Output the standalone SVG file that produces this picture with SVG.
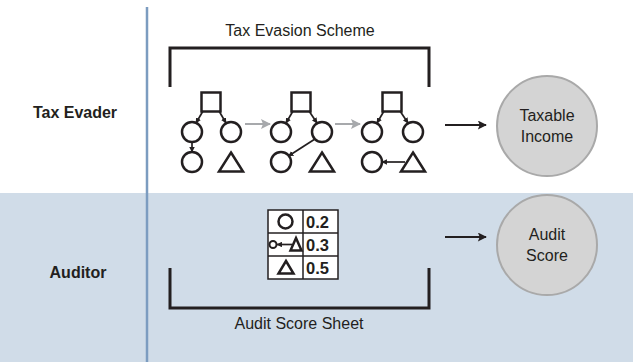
<svg xmlns="http://www.w3.org/2000/svg" width="633" height="362" viewBox="0 0 633 362">
<defs>
<style>
.lbl{font-family:"Liberation Sans",Arial,sans-serif;font-size:16px;fill:#231f20}
.b{font-weight:bold}
.sh{fill:none;stroke:#231f20;stroke-width:2.5}
.ed{fill:none;stroke:#231f20;stroke-width:1.7}
.br{fill:none;stroke:#231f20;stroke-width:3}
.gr{fill:none;stroke:#a7a9ac;stroke-width:2}
.big{fill:#d4d4d4;stroke:#a9a9a9;stroke-width:2}
.val{font-family:"Liberation Sans",Arial,sans-serif;font-size:16.5px;font-weight:bold;fill:#231f20}
</style>
<marker id="ak" viewBox="0 0 10 10" refX="9" refY="5" markerWidth="5.5" markerHeight="5.5" orient="auto" markerUnits="userSpaceOnUse"><path d="M0,0 L10,5 L0,10 z" fill="#231f20"/></marker>
<marker id="ab" viewBox="0 0 10 10" refX="9" refY="5" markerWidth="11" markerHeight="9" orient="auto" markerUnits="userSpaceOnUse"><path d="M0,0 L10,5 L0,10 L2,5 z" fill="#231f20"/></marker>
<marker id="ag" viewBox="0 0 10 10" refX="9" refY="5" markerWidth="10" markerHeight="10" orient="auto" markerUnits="userSpaceOnUse"><path d="M0,0 L10,5 L0,10 L2,5 z" fill="#a7a9ac"/></marker>
</defs>
<rect x="0" y="193" width="633" height="169" fill="#d0dce8"/>
<line x1="147" y1="7" x2="147" y2="362" stroke="#7c9cc0" stroke-width="2.5"/>

<g id="lane-tax-evader"><text class="lbl b" x="75" y="118" text-anchor="middle">Tax Evader</text></g>
<g id="lane-auditor"><text class="lbl b" x="78" y="278" text-anchor="middle">Auditor</text></g>

<g id="tax-evasion-scheme">
<text class="lbl" x="300" y="36" text-anchor="middle">Tax Evasion Scheme</text>
<path class="br" d="M170,87 V48 H429 V87"/>
<g id="scheme-1">
<rect class="sh" x="201.5" y="92.5" width="19" height="19"/>
<circle class="sh" cx="192" cy="132" r="10"/>
<circle class="sh" cx="231" cy="132" r="10"/>
<circle class="sh" cx="192" cy="162" r="10"/>
<path class="sh" d="M231,152.5 L243,171.5 L219,171.5 Z"/>
</g>
<g id="scheme-2">
<rect class="sh" x="291.5" y="92.5" width="19" height="19"/>
<circle class="sh" cx="281" cy="132" r="10"/>
<circle class="sh" cx="322" cy="132" r="10"/>
<circle class="sh" cx="281" cy="162" r="10"/>
<path class="sh" d="M322,152.5 L334,171.5 L310,171.5 Z"/>
</g>
<g id="scheme-3">
<rect class="sh" x="382.5" y="92.5" width="19" height="19"/>
<circle class="sh" cx="372" cy="132" r="10"/>
<circle class="sh" cx="413" cy="132" r="10"/>
<circle class="sh" cx="372" cy="162" r="10"/>
<path class="sh" d="M413,152.5 L425,171.5 L401,171.5 Z"/>
</g>
</g>

<g id="taxable-income">
<circle class="big" cx="547" cy="126" r="50"/>
<text class="lbl" x="547" y="121" text-anchor="middle">Taxable</text>
<text class="lbl" x="547" y="142" text-anchor="middle">Income</text>
</g>

<g id="audit-score-sheet">
<path class="br" d="M170,268 V308 H429 V268"/>
<text class="lbl" x="299" y="329" text-anchor="middle">Audit Score Sheet</text>
<g id="score-table">
<rect x="268" y="210" width="70" height="69" fill="#ffffff" stroke="#231f20" stroke-width="1.5"/>
<line x1="303" y1="210" x2="303" y2="279" stroke="#231f20" stroke-width="1.5"/>
<line x1="268" y1="233" x2="338" y2="233" stroke="#231f20" stroke-width="1.5"/>
<line x1="268" y1="256" x2="338" y2="256" stroke="#231f20" stroke-width="1.5"/>
<circle class="sh" cx="285.5" cy="221.5" r="7"/>
<circle fill="none" stroke="#231f20" stroke-width="2" cx="273" cy="244.5" r="3.5"/>
<line class="ed" x1="292" y1="244.5" x2="277" y2="244.5" marker-end="url(#ak)"/>
<path class="sh" d="M296,238 L301.5,250.5 L290.5,250.5 Z"/>
<path class="sh" d="M286,261 L293.5,273.5 L278.5,273.5 Z"/>
<text class="val" x="306" y="227.5">0.2</text>
<text class="val" x="306" y="250.5">0.3</text>
<text class="val" x="306" y="273.5">0.5</text>
</g>
</g>

<g id="audit-score">
<circle class="big" cx="547" cy="245" r="50"/>
<text class="lbl" x="547" y="240" text-anchor="middle">Audit</text>
<text class="lbl" x="547" y="261" text-anchor="middle">Score</text>
</g>

<g id="connectors">
<line class="ed" x1="203" y1="111" x2="196" y2="123" marker-end="url(#ak)"/>
<line class="ed" x1="219" y1="111" x2="226" y2="123" marker-end="url(#ak)"/>
<line class="ed" x1="192" y1="142" x2="192" y2="152" marker-end="url(#ak)"/>
<line class="ed" x1="293" y1="111" x2="286" y2="123" marker-end="url(#ak)"/>
<line class="ed" x1="309" y1="111" x2="317" y2="123" marker-end="url(#ak)"/>
<line class="ed" x1="315" y1="139" x2="288.5" y2="156" marker-end="url(#ak)"/>
<line class="ed" x1="384" y1="111" x2="377" y2="123" marker-end="url(#ak)"/>
<line class="ed" x1="400" y1="111" x2="408" y2="123" marker-end="url(#ak)"/>
<line class="ed" x1="405" y1="162" x2="382" y2="162" marker-end="url(#ak)"/>
<line class="gr" x1="245" y1="124" x2="270" y2="124" marker-end="url(#ag)"/>
<line class="gr" x1="335" y1="124" x2="360" y2="124" marker-end="url(#ag)"/>
<line stroke="#231f20" stroke-width="2" x1="445" y1="125" x2="486" y2="125" marker-end="url(#ab)"/>
<line stroke="#231f20" stroke-width="2" x1="445" y1="237" x2="486" y2="237" marker-end="url(#ab)"/>
</g>
</svg>
